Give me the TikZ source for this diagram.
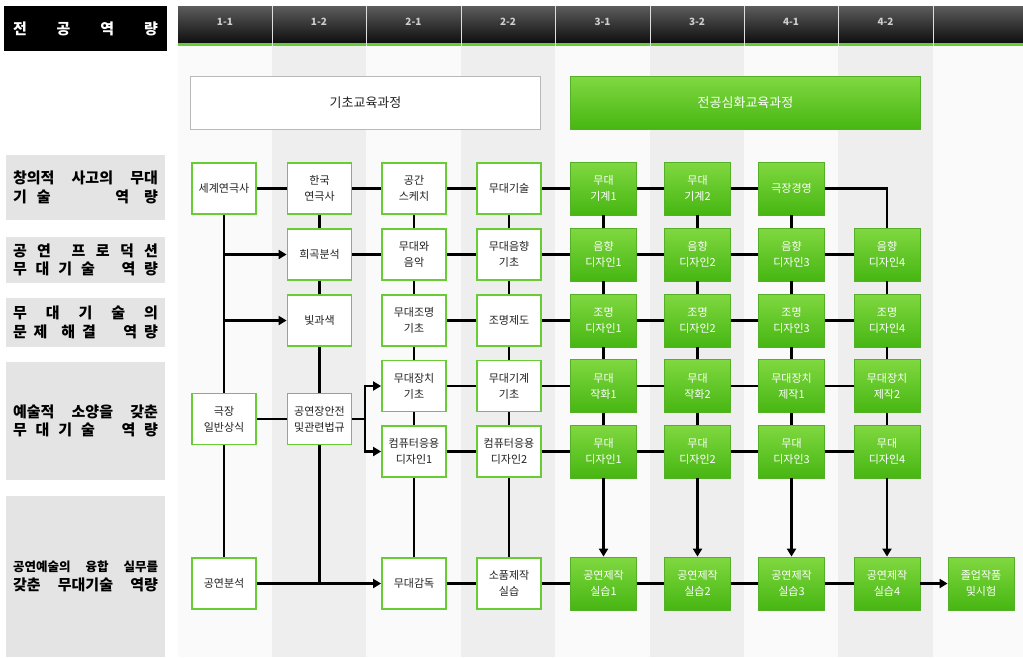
\documentclass[tikz,border=0pt]{standalone}
\usepackage{fontspec}
\setmainfont{Noto Sans CJK KR}
\usepackage{tikz}
\usetikzlibrary{arrows.meta}

\definecolor{hdrtop}{RGB}{92,92,92}
\definecolor{hdrbot}{RGB}{14,14,14}
\definecolor{hdrtext}{RGB}{205,205,205}
\definecolor{lime}{RGB}{104,204,52}
\definecolor{limetop}{RGB}{128,216,64}
\definecolor{limebot}{RGB}{70,182,18}
\definecolor{limeedge}{RGB}{84,176,38}
\definecolor{stripe}{RGB}{238,238,238}
\definecolor{paper}{RGB}{250,250,250}
\definecolor{labelbg}{RGB}{228,228,228}
\definecolor{ink}{RGB}{34,34,34}

\newcommand{\spread}[1]{\makebox[145pt][s]{#1}}

\begin{document}
\begin{tikzpicture}[x=1pt,y=-1pt,
  course/.style={draw=lime,line width=1.8pt,fill=white,minimum width=64pt,minimum height=51pt,inner sep=0pt,align=center,text=ink,font=\fontsize{11}{16}\selectfont},
  major/.style={draw=limeedge,line width=0.8pt,top color=limetop,bottom color=limebot,minimum width=66pt,minimum height=53pt,inner sep=0pt,align=center,text=white,font=\fontsize{11}{16}\selectfont},
  compbox/.style={fill=labelbg,minimum width=159pt,inner sep=0pt,align=center,text=black,font=\bfseries\fontsize{15}{18.5}\selectfont},
  yearlabel/.style={inner sep=0pt,text=hdrtext,font=\bfseries\fontsize{10}{12}\selectfont},
  link/.style={draw=black,line width=2.2pt},
  arrow/.style={link,-{Triangle[length=8pt,width=9pt]}}]
\path[use as bounding box] (0,0) rectangle (1023,657);
\path[fill=white] (0,0) rectangle (1023,657);

% column stripes
\path[fill=paper] (178,46) rectangle (1023,657);
\path[fill=stripe] (272,46) rectangle (366,657);
\path[fill=stripe] (461,46) rectangle (555,657);
\path[fill=stripe] (650,46) rectangle (744,657);
\path[fill=stripe] (838,46) rectangle (933,657);

% header bar
\shade[top color=hdrtop,bottom color=hdrbot] (178,6) rectangle (1023,43);
\path[fill=lime] (178,43) rectangle (1023,46);
\foreach \x in {272,366,461,555,650,744,838,933}
  \draw[white!75!gray,line width=0.8pt] (\x,6) -- (\x,46);
\node[yearlabel] (y11) at (225,22) {1-1};
\node[yearlabel] (y12) at (319,22) {1-2};
\node[yearlabel] (y21) at (413.5,22) {2-1};
\node[yearlabel] (y22) at (508,22) {2-2};
\node[yearlabel] (y31) at (602.5,22) {3-1};
\node[yearlabel] (y32) at (697,22) {3-2};
\node[yearlabel] (y41) at (791,22) {4-1};
\node[yearlabel] (y42) at (885.5,22) {4-2};

% competence column
\node[fill=black,minimum width=163pt,minimum height=45pt,inner sep=0pt,text=white,font=\bfseries\fontsize{15}{17}\selectfont] (title) at (85.5,28.5) {\spread{전\hfil 공\hfil 역\hfil 량}};
\node[compbox,minimum height=65pt] (comp1) at (85.5,187.5) {\spread{창의적 사고의 무대}\\\spread{기\hspace{10pt}술\hfill 역\hspace{15pt}량}};
\node[compbox,minimum height=46pt] (comp2) at (85.5,260) {\spread{공\hfil 연\hfil\hfil 프\hfil 로\hfil 덕\hfil 션}\\\spread{무\hfil 대\hfil 기\hfil 술\hfil\hfil\hfil 역\hfil 량}};
\node[compbox,minimum height=49pt] (comp3) at (85.5,322.5) {\spread{무\hfil 대\hfil 기\hfil 술\hfil 의}\\\spread{문\hfil 제\hfil\hfil 해\hfil 결\hfil\hfil\hfil\hfil 역\hfil 량}};
\node[compbox,minimum height=118pt] (comp4) at (85.5,421) {\spread{예술적 소양을 갖춘}\\\spread{무\hfil 대\hfil 기\hfil 술\hfil\hfil\hfil 역\hfil 량}};
\node[compbox,minimum height=161pt] (comp5) at (85.5,576.5) {\spread{\fontsize{12.5}{18}\selectfont 공연예술의 융합 실무를}\\\spread{갖춘 무대기술 역량}};

% course groups
\node[draw=gray!55,line width=1pt,fill=white,minimum width=350pt,minimum height=53pt,text=ink,font=\fontsize{13}{15}\selectfont] (basics) at (365.5,103) {기초교육과정};
\node[draw=limeedge,line width=0.8pt,top color=limetop,bottom color=limebot,minimum width=350pt,minimum height=53pt,text=white,font=\fontsize{13}{15}\selectfont] (advanced) at (745.5,103) {전공심화교육과정};

% subjects
\node[course] (history) at (224,188.5) {세계연극사};
\node[course] (korhist) at (319.5,188.5) {한국\\연극사};
\node[course] (sketch) at (414,188.5) {공간\\스케치};
\node[course] (stagetech) at (509,188.5) {무대기술};
\node[major] (mech1) at (603.5,188.5) {무대\\기계1};
\node[major] (mech2) at (697.5,188.5) {무대\\기계2};
\node[major] (mgmt) at (791.5,188.5) {극장경영};

\node[course] (script) at (319.5,254.5) {희곡분석};
\node[course] (music) at (414,254.5) {무대와\\음악};
\node[course] (soundbasic) at (509,254.5) {무대음향\\기초};
\node[major] (snd1) at (603.5,254.5) {음향\\디자인1};
\node[major] (snd2) at (697.5,254.5) {음향\\디자인2};
\node[major] (snd3) at (791.5,254.5) {음향\\디자인3};
\node[major] (snd4) at (887,254.5) {음향\\디자인4};

\node[course] (color) at (319.5,320.5) {빛과색};
\node[course] (lightbasic) at (414,320.5) {무대조명\\기초};
\node[course] (lightdraft) at (509,320.5) {조명제도};
\node[major] (lit1) at (603.5,320.5) {조명\\디자인1};
\node[major] (lit2) at (697.5,320.5) {조명\\디자인2};
\node[major] (lit3) at (791.5,320.5) {조명\\디자인3};
\node[major] (lit4) at (887,320.5) {조명\\디자인4};

\node[course] (setbasic) at (414,386) {무대장치\\기초};
\node[course] (machbasic) at (509,386) {무대기계\\기초};
\node[major] (paint1) at (603.5,386) {무대\\작화1};
\node[major] (paint2) at (697.5,386) {무대\\작화2};
\node[major] (build1) at (791.5,386) {무대장치\\제작1};
\node[major] (build2) at (887,386) {무대장치\\제작2};

\node[course] (theater) at (224,419) {극장\\일반상식};
\node[course] (safety) at (319.5,419) {공연장안전\\및관련법규};

\node[course] (cad1) at (414,451.5) {컴퓨터응용\\디자인1};
\node[course] (cad2) at (509,451.5) {컴퓨터응용\\디자인2};
\node[major] (des1) at (603.5,451.5) {무대\\디자인1};
\node[major] (des2) at (697.5,451.5) {무대\\디자인2};
\node[major] (des3) at (791.5,451.5) {무대\\디자인3};
\node[major] (des4) at (887,451.5) {무대\\디자인4};

\node[course] (analysis) at (224,583.5) {공연분석};
\node[course] (manager) at (414,583.5) {무대감독};
\node[course] (props) at (509,583.5) {소품제작\\실습};
\node[major] (prod1) at (603.5,583.5) {공연제작\\실습1};
\node[major] (prod2) at (697.5,583.5) {공연제작\\실습2};
\node[major] (prod3) at (791.5,583.5) {공연제작\\실습3};
\node[major] (prod4) at (887,583.5) {공연제작\\실습4};
\node[major] (grad) at (981,583.5) {졸업작품\\및시험};

\coordinate (fork) at (365,419);
\coordinate (join) at (safety |- analysis);

% rows
\draw[link] (history) -- (korhist) -- (sketch) -- (stagetech) -- (mech1) -- (mech2) -- (mgmt);
\draw[link] (mgmt) -| (snd4);
\draw[link] (script) -- (music) -- (soundbasic) -- (snd1) -- (snd2) -- (snd3) -- (snd4);
\draw[link] (lightbasic) -- (lightdraft) -- (lit1) -- (lit2) -- (lit3) -- (lit4);
\draw[link] (setbasic) -- (machbasic) -- (paint1) -- (paint2) -- (build1) -- (build2);
\draw[link] (cad1) -- (cad2) -- (des1) -- (des2) -- (des3) -- (des4);
\draw[link] (theater) -- (safety) -- (fork);
\draw[arrow] (fork) |- (setbasic);
\draw[arrow] (fork) |- (cad1);
\draw[arrow] (analysis) -- (manager);
\draw[link] (manager) -- (props) -- (prod1) -- (prod2) -- (prod3) -- (prod4);
\draw[arrow] (prod4) -- (grad);

% columns
\draw[link] (history) -- (theater);
\draw[link] (theater) -- (analysis);
\draw[arrow] (history |- script) -- (script);
\draw[arrow] (history |- color) -- (color);
\draw[link] (korhist) -- (script) -- (color) -- (safety);
\draw[link] (safety) -- (join);
\draw[link] (sketch) -- (music) -- (lightbasic) -- (setbasic) -- (cad1) -- (manager);
\draw[link] (stagetech) -- (soundbasic) -- (lightdraft) -- (machbasic) -- (cad2) -- (props);
\draw[link] (mech1) -- (snd1) -- (lit1) -- (paint1) -- (des1);
\draw[link] (mech2) -- (snd2) -- (lit2) -- (paint2) -- (des2);
\draw[link] (mgmt) -- (snd3) -- (lit3) -- (build1) -- (des3);
\draw[link] (snd4) -- (lit4) -- (build2) -- (des4);
\draw[arrow] (des1) -- (prod1);
\draw[arrow] (des2) -- (prod2);
\draw[arrow] (des3) -- (prod3);
\draw[arrow] (des4) -- (prod4);
\end{tikzpicture}
\end{document}
